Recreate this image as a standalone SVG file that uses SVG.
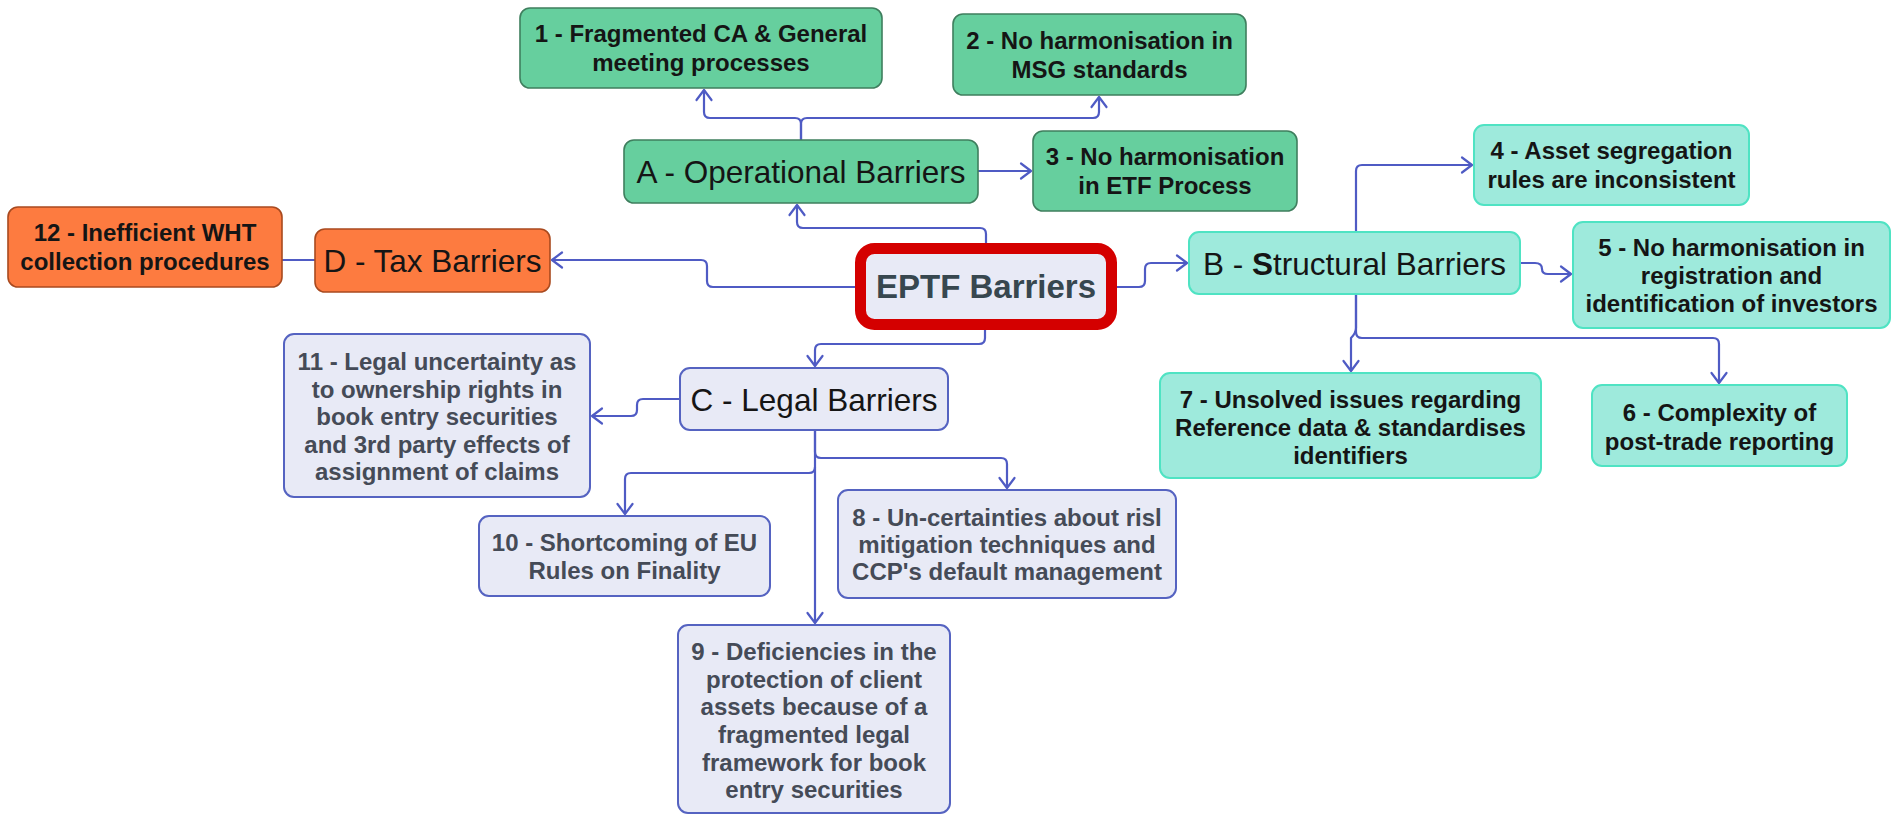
<svg xmlns="http://www.w3.org/2000/svg" width="1891" height="815" viewBox="0 0 1891 815">
<style>
text{font-family:"Liberation Sans",Arial,sans-serif;text-anchor:middle}
.leaf{font-size:24px;font-weight:bold;fill:#151515}
.lg{fill:#454b57}
.top{font-size:31.5px;fill:#151515}
.green{fill:#66cf9e;stroke:#3f7f5e;stroke-width:1.6}
.orange{fill:#fd7b40;stroke:#a94a1f;stroke-width:1.6}
.cyan{fill:#9eeadc;stroke:#4fe3c3;stroke-width:2}
.lav{fill:#e8eaf6;stroke:#5563c1;stroke-width:2}
.con{fill:none;stroke:#4f5bc4;stroke-width:2.2;stroke-linejoin:round}
.arr{marker-end:url(#arr)}
</style>
<defs>
<marker id="arr" viewBox="-13 -10 15 20" refX="0" refY="0" markerWidth="15" markerHeight="20" markerUnits="userSpaceOnUse" orient="auto">
<path d="M-10,-7.5 L0,0 L-10,7.5" fill="none" stroke="#4f5bc4" stroke-width="2.2" stroke-linecap="round" stroke-linejoin="round"/>
</marker>
</defs>
<rect width="1891" height="815" fill="#ffffff"/>

<g id="connectors">
<path class="con arr" d="M986,243 V234 Q986,228 980,228 H803 Q797,228 797,222 V205"/>
<path class="con arr" d="M801,140 V124 Q801,118 795,118 H710 Q704,118 704,112 V90"/>
<path class="con arr" d="M801,140 V124 Q801,118 807,118 H1093 Q1099,118 1099,112 V97"/>
<path class="con arr" d="M978,171 H1031"/>
<path class="con arr" d="M855,287 H713 Q707,287 707,281 V266 Q707,260 701,260 H552"/>
<path class="con" d="M315,260 H282"/>
<path class="con arr" d="M1117,287 H1139 Q1145,287 1145,281 V269 Q1145,263 1151,263 H1187"/>
<path class="con arr" d="M1356,232 V171 Q1356,165 1362,165 H1472"/>
<path class="con arr" d="M1520,263 H1535 Q1542,263 1542,269 Q1542,274 1548,274 H1571"/>
<path class="con arr" d="M1356,294 V332 Q1356,338 1362,338 H1713 Q1719,338 1719,344 V383"/>
<path class="con arr" d="M1356,294 V328 Q1356,333 1351,338 V371"/>
<path class="con arr" d="M985,330 V338 Q985,344 979,344 H821 Q815,344 815,350 V366"/>
<path class="con arr" d="M680,399 H643 Q637,399 637,405 V410 Q637,416 631,416 H592"/>
<path class="con arr" d="M815,430 V452 Q815,458 821,458 H1001 Q1007,458 1007,464 V488"/>
<path class="con arr" d="M815,467 Q815,473 809,473 H631 Q625,473 625,479 V514"/>
<path class="con arr" d="M815,430 V623"/>
</g>

<g id="n1">
<rect class="green" x="520" y="8" width="362" height="80" rx="10"/>
<text class="leaf" x="701" y="42">1 - Fragmented CA &amp; General</text>
<text class="leaf" x="701" y="71">meeting processes</text>
</g>
<g id="n2">
<rect class="green" x="953" y="14" width="293" height="81" rx="10"/>
<text class="leaf" x="1099.5" y="48.5">2 - No harmonisation in</text>
<text class="leaf" x="1099.5" y="77.5">MSG standards</text>
</g>
<g id="nA">
<rect class="green" x="624" y="140" width="354" height="63" rx="10"/>
<text class="top" x="801" y="183">A - Operational Barriers</text>
</g>
<g id="n3">
<rect class="green" x="1033" y="131" width="264" height="80" rx="10"/>
<text class="leaf" x="1165" y="165">3 - No harmonisation</text>
<text class="leaf" x="1165" y="194">in ETF Process</text>
</g>
<g id="n12">
<rect class="orange" x="8" y="207" width="274" height="80" rx="10"/>
<text class="leaf" x="145" y="241">12 - Inefficient WHT</text>
<text class="leaf" x="145" y="270">collection procedures</text>
</g>
<g id="nD">
<rect class="orange" x="315" y="229" width="235" height="63" rx="10"/>
<text class="top" x="432.5" y="272">D - Tax Barriers</text>
</g>
<g id="root">
<rect x="860.5" y="248.5" width="251" height="76" rx="14" fill="#e8eaf6" stroke="#d40000" stroke-width="11"/>
<text x="986" y="298" font-size="33" font-weight="bold" fill="#37474f">EPTF Barriers</text>
</g>
<g id="nB">
<rect class="cyan" x="1189" y="232" width="331" height="62" rx="10"/>
<text class="top" x="1354.5" y="274.5">B - <tspan font-weight="bold">S</tspan>tructural Barriers</text>
</g>
<g id="n4">
<rect class="cyan" x="1474" y="125" width="275" height="80" rx="10"/>
<text class="leaf" x="1611.5" y="159">4 - Asset segregation</text>
<text class="leaf" x="1611.5" y="188">rules are inconsistent</text>
</g>
<g id="n5">
<rect class="cyan" x="1573" y="222" width="317" height="106" rx="10"/>
<text class="leaf" x="1731.5" y="255.5">5 - No harmonisation in</text>
<text class="leaf" x="1731.5" y="283.5">registration and</text>
<text class="leaf" x="1731.5" y="311.5">identification of investors</text>
</g>
<g id="n7">
<rect class="cyan" x="1160" y="373" width="381" height="105" rx="10"/>
<text class="leaf" x="1350.5" y="408">7 - Unsolved issues regarding</text>
<text class="leaf" x="1350.5" y="436">Reference data &amp; standardises</text>
<text class="leaf" x="1350.5" y="464">identifiers</text>
</g>
<g id="n6">
<rect class="cyan" x="1592" y="385" width="255" height="81" rx="10"/>
<text class="leaf" x="1719.5" y="420.5">6 - Complexity of</text>
<text class="leaf" x="1719.5" y="449.5">post-trade reporting</text>
</g>
<g id="nC">
<rect class="lav" x="680" y="368" width="268" height="62" rx="10"/>
<text class="top lg" x="814" y="410.5">C - Legal Barriers</text>
</g>
<g id="n11">
<rect class="lav" x="284" y="334" width="306" height="163" rx="10"/>
<text class="leaf lg" x="437" y="370">11 - Legal uncertainty as</text>
<text class="leaf lg" x="437" y="397.5">to ownership rights in</text>
<text class="leaf lg" x="437" y="425">book entry securities</text>
<text class="leaf lg" x="437" y="452.5">and 3rd party effects of</text>
<text class="leaf lg" x="437" y="480">assignment of claims</text>
</g>
<g id="n10">
<rect class="lav" x="479" y="516" width="291" height="80" rx="10"/>
<text class="leaf lg" x="624.5" y="550.5">10 - Shortcoming of EU</text>
<text class="leaf lg" x="624.5" y="578.5">Rules on Finality</text>
</g>
<g id="n8">
<rect class="lav" x="838" y="490" width="338" height="108" rx="10"/>
<text class="leaf lg" x="1007" y="525.5">8 - Un-certainties about risl</text>
<text class="leaf lg" x="1007" y="552.5">mitigation techniques and</text>
<text class="leaf lg" x="1007" y="579.5">CCP's default management</text>
</g>
<g id="n9">
<rect class="lav" x="678" y="625" width="272" height="188" rx="10"/>
<text class="leaf lg" x="814" y="659.5">9 - Deficiencies in the</text>
<text class="leaf lg" x="814" y="687.5">protection of client</text>
<text class="leaf lg" x="814" y="715">assets because of a</text>
<text class="leaf lg" x="814" y="743">fragmented legal</text>
<text class="leaf lg" x="814" y="770.5">framework for book</text>
<text class="leaf lg" x="814" y="798">entry securities</text>
</g>
</svg>
